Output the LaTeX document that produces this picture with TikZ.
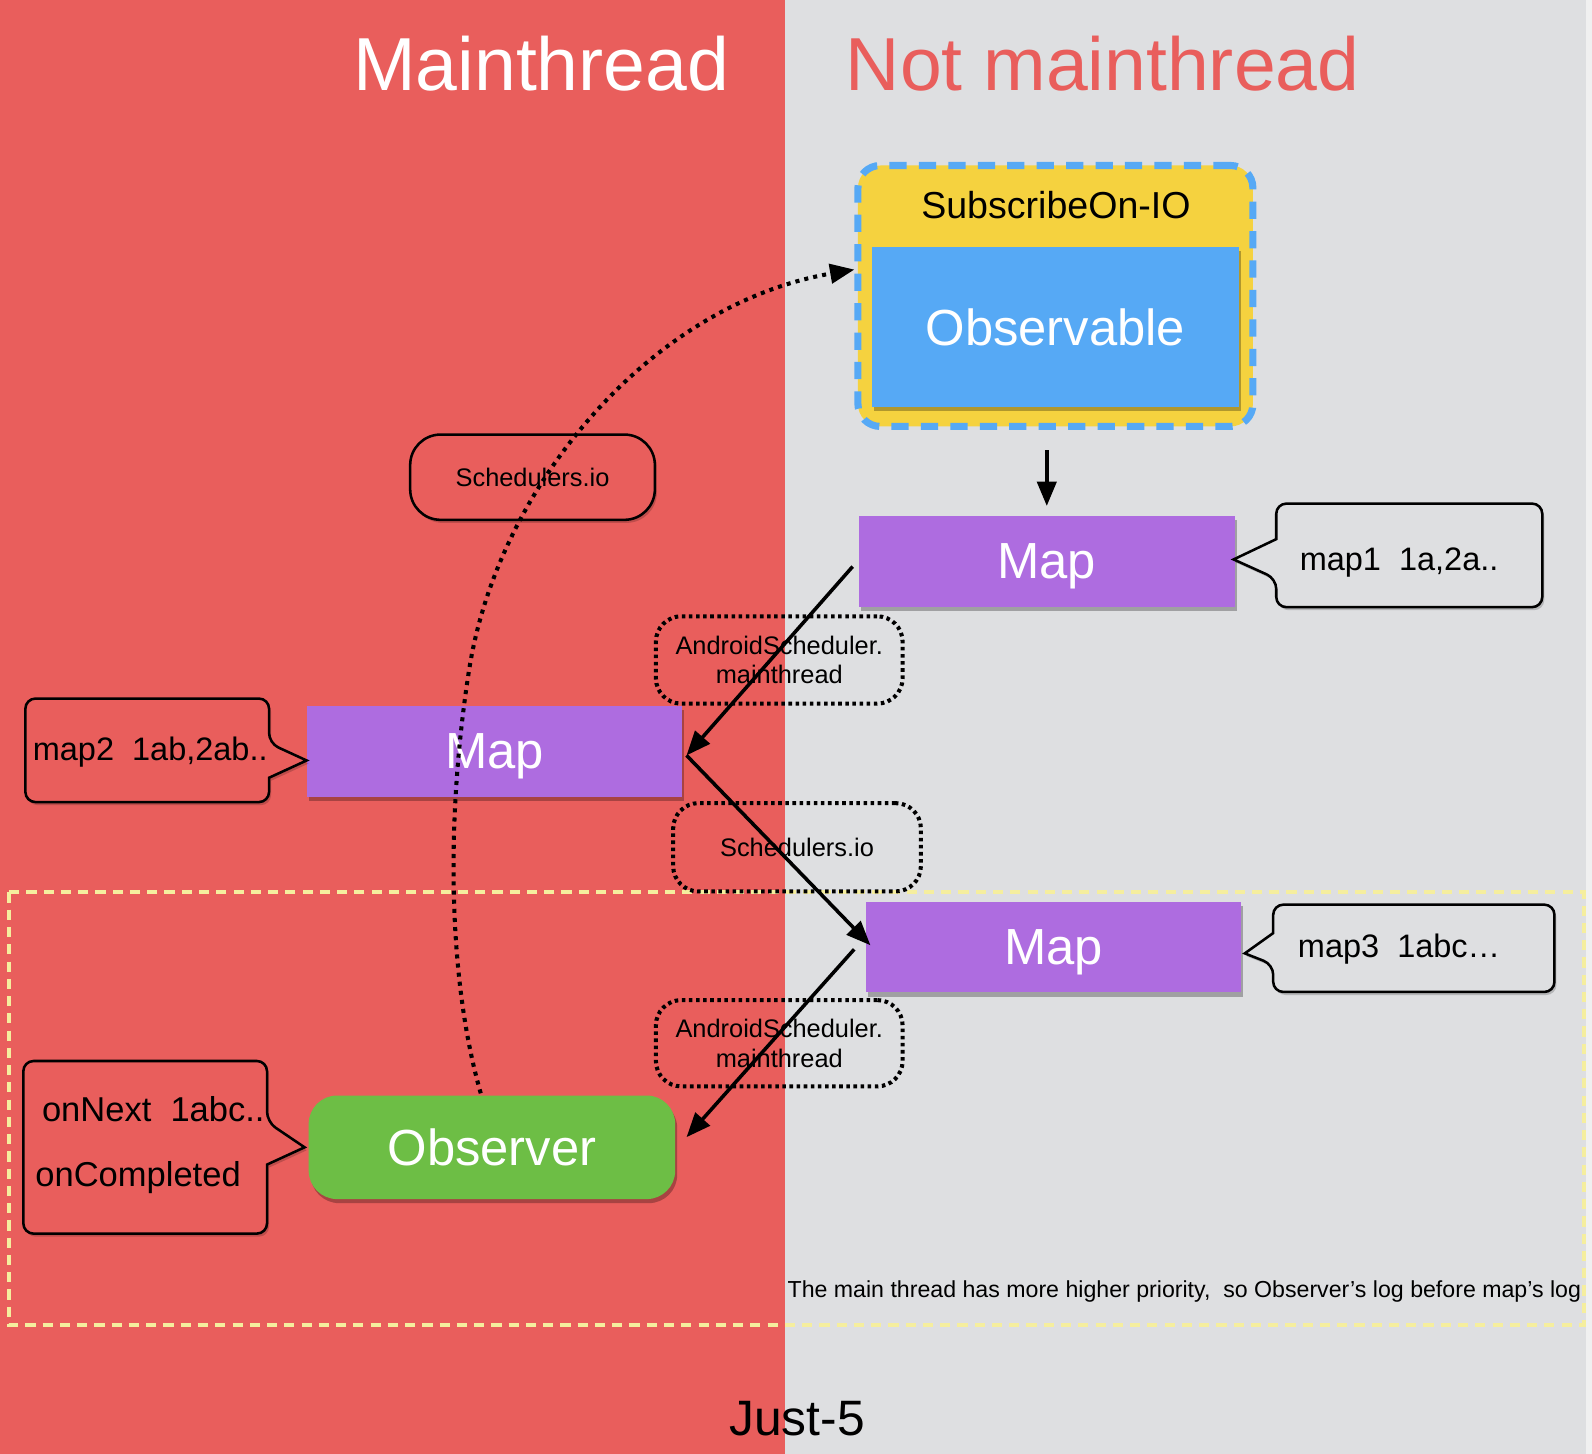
\documentclass[tikz,border=0pt]{standalone}
\usepackage{fontspec}
\setmainfont{Liberation Sans}
\usetikzlibrary{arrows.meta,shadows,calc}
\definecolor{redbg}{HTML}{E95E5C}
\definecolor{graybg}{HTML}{DEDFE1}
\definecolor{subyel}{HTML}{F5D23F}
\definecolor{obsblue}{HTML}{56A9F5}
\definecolor{mappurple}{HTML}{AE6CE0}
\definecolor{obsgreen}{HTML}{6DBE45}
\definecolor{noteyel}{HTML}{F5EE9E}
\definecolor{edgestrip}{HTML}{F0F0F0}
\begin{document}
\begin{tikzpicture}[x=1pt,y=-1pt,
  shad/.style={drop shadow={shadow xshift=2pt,shadow yshift=-4pt,opacity=0.28,fill=black}},
  lightshad/.style={drop shadow={shadow xshift=2pt,shadow yshift=-3pt,opacity=0.18,fill=black}},
  titletext/.style={font=\fontsize{74}{88}\selectfont,inner sep=0pt},
  bigw/.style={font=\fontsize{50}{60}\selectfont,text=white,text depth=0pt},
  mapbox/.style={fill=mappurple,minimum width=370pt,minimum height=89pt,inner sep=0pt,bigw,shad},
  callout/.style={draw=black,line width=2.5pt,lightshad},
  calltext/.style={font=\fontsize{32}{38}\selectfont,inner sep=0pt},
  smalltext/.style={font=\fontsize{25}{29}\selectfont,inner sep=0pt,align=center},
  dotbox/.style={draw=black,line width=4pt,dash pattern=on 3.5pt off 3.5pt,rounded corners=25pt,minimum width=243pt,minimum height=86pt,smalltext},
  solidbox/.style={draw=black,line width=2.5pt,rounded corners=30pt,fill=redbg,minimum width=241pt,minimum height=84pt,smalltext,lightshad},
  arr/.style={line width=3.5pt,-{Triangle[length=24pt,width=19pt]}},
  dotarr/.style={line width=4pt,dash pattern=on 4pt off 5pt,-{Triangle[length=24pt,width=19pt]}}
]
\useasboundingbox (0,0) rectangle (1568,1432);
% backgrounds
\fill[redbg] (0,0) rectangle (773,1432);
\fill[graybg] (773,0) rectangle (1562,1432);
\fill[edgestrip] (1562,0) rectangle (1568,1432);
% note frame
\draw[noteyel,line width=4pt,dash pattern=on 10pt off 7pt] (9,879) rectangle (1560,1305);
% titles
\node[titletext,text=white] (t1) at (533,63) {Mainthread};
\node[titletext,text=redbg] (t2) at (1086,63) {Not mainthread};
% subscribeOn box
\node[draw=obsblue,fill=subyel,line width=7pt,dash pattern=on 17pt off 12pt,rounded corners=22pt,minimum width=389pt,minimum height=257pt] (sub) at (1039.5,291.5) {};
\node[font=\fontsize{37}{44}\selectfont,inner sep=0pt] (sublbl) at (1040,202) {SubscribeOn-IO};
\node[fill=obsblue,minimum width=361pt,minimum height=158pt,inner sep=0pt,bigw,shad] (obs) at (1039.5,322) {Observable};
% maps
\node[mapbox] (map1) at (1031,553) {Map};
\node[mapbox] (map2) at (487,740) {Map};
\node[mapbox] (map3) at (1037.5,933) {Map};
% observer
\node[fill=obsgreen,rounded corners=28pt,minimum width=361pt,minimum height=102pt,inner sep=0pt,bigw,shad] (obsr) at (484.5,1130) {Observer};
% callouts
\path[callout,fill=graybg] (1257,531) [rounded corners=10pt] -- (1257,496) -- (1519,496) -- (1519,598) -- (1257,598) -- (1257,570) [sharp corners] -- (1215,551) -- cycle;
\node[calltext] (c1) at (1378,554) {map1~~1a,2a..};
\path[callout,fill=redbg] (265,766) [rounded corners=10pt] -- (265,790) -- (25,790) -- (25,688) -- (265,688) -- (265,732) [sharp corners] -- (302,749) -- cycle;
\node[calltext] (c2) at (148,741) {map2~~1ab,2ab..};
\path[callout,fill=graybg] (1254,919) [rounded corners=10pt] -- (1254,891) -- (1531,891) -- (1531,977) -- (1254,977) -- (1254,950) [sharp corners] -- (1226,939) -- cycle;
\node[calltext] (c3) at (1378,935) {map3~~1abc…};
\path[callout,fill=redbg] (263,1147) [rounded corners=10pt] -- (263,1215) -- (23,1215) -- (23,1045) -- (263,1045) -- (263,1105) [sharp corners] -- (300,1130) -- cycle;
\node[calltext,font=\fontsize{34}{40}\selectfont] (c4a) at (151,1092) {onNext~~1abc..};
\node[calltext,font=\fontsize{34}{40}\selectfont] (c4b) at (136,1160) {onCompleted};
% scheduler labels
\node[solidbox] (s1) at (524.5,470) {Schedulers.io};
\node[dotbox] (as1) at (767.5,650) {AndroidScheduler.\\mainthread};
\node[dotbox,minimum width=244pt,minimum height=87pt] (s2) at (785,834.5) {Schedulers.io};
\node[dotbox,minimum height=85pt] (as2) at (767.5,1027.5) {AndroidScheduler.\\mainthread};
% note and caption
\node[font=\fontsize{22.8}{27}\selectfont,inner sep=0pt] (note) at (1166.5,1272) {The main thread has more higher priority,\ \ so Observer’s log before map’s log};
\node[font=\fontsize{49}{58}\selectfont,inner sep=0pt] (cap) at (785,1397) {Just-5};
% connectors
\coordinate (a0) at ($(sub.south -| map1.north)+(0,20)$);
\coordinate (a1) at ($(map1.north)+(0,-10)$);
\draw[arr] (a0) -- (a1);
\coordinate (m1s) at ($(map1.west)+(-6,5)$);
\coordinate (j1) at ($(map2.east)+(4,4)$);
\coordinate (m3t) at ($(map3.west)+(5,-2)$);
\draw[arr] (m1s) -- (j1);
\draw[arr] (j1) -- (m3t);
\coordinate (m3s) at ($(map3.west)+(-11,2)$);
\coordinate (ot) at ($(obsr.east)+(11,-10)$);
\draw[arr] (m3s) -- (ot);
\coordinate (ob) at ($(obsr.north)+(-11,-2)$);
\coordinate (sl) at ($(sub.west)+(0,-26)$);
\draw[dotarr] (ob) .. controls (440,960) and (440,800) .. (462,660) .. controls (490,480) and (640,300) .. (sl);
\end{tikzpicture}
\end{document}
